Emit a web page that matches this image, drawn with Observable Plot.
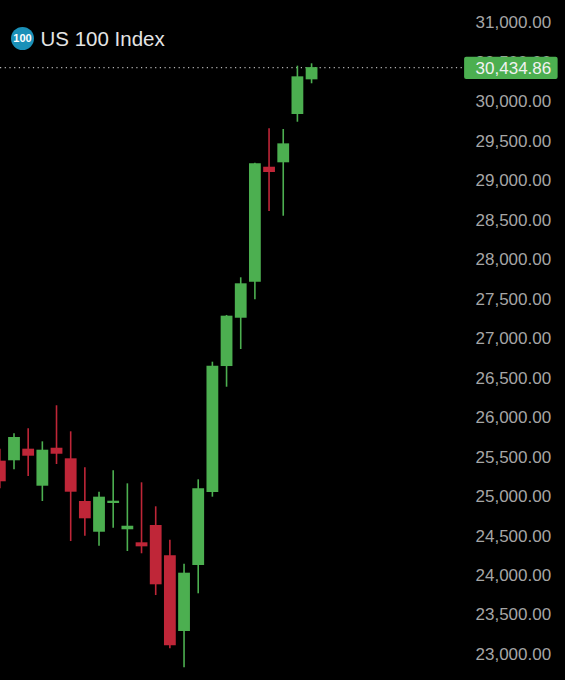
<!DOCTYPE html>
<html>
<head>
<meta charset="utf-8">
<script src="https://cdn.jsdelivr.net/npm/d3@7"></script>
<script src="https://cdn.jsdelivr.net/npm/@observablehq/plot@0.6"></script>
<style>
  html, body { margin: 0; padding: 0; background: #000; width: 565px; height: 680px; overflow: hidden; }
  #chart { position: absolute; left: 0; top: 0; }
  #head { position: absolute; left: 11px; top: 26.5px; display: flex; align-items: center; height: 23px; font-family: "Liberation Sans", sans-serif; }
  #badge { width: 23px; height: 23px; border-radius: 50%; background: #1a90b8; color: #fff; font-size: 11px; font-weight: 700; line-height: 23px; text-align: center; }
  #name { margin-left: 6.5px; color: #e4e4e4; font-size: 20.5px; line-height: 23px; white-space: nowrap; }
  svg text { font-family: "Liberation Sans", sans-serif; }
</style>
</head>
<body>
<div id="chart"></div>
<div id="head"><div id="badge">100</div><div id="name">US 100 Index</div></div>
<script>
const period = [-1,0,1,2,3,4,5,6,7,8,9,10,11,12,13,14,15,16,17,18,19,20,21];
const open  = [25449,25454,25601,25132,25613,25479,24938,24549,24913,24580,24415,24634,24250,23291,24127,25052,26648,27260,27716,29173,29229,29841,30280];
const close = [25188,25749,25512,25588,25537,25056,24719,24993,24942,24625,24364,23883,23110,24030,25099,26652,27286,27696,29216,29106,29469,30318,30434.86];
const high  = [25600,25796,25859,25694,26151,25821,25365,25056,25327,25162,25175,24871,24448,24144,25213,26703,27295,27772,29224,29659,29651,30453,30483];
const low   = [25100,25340,25255,24938,25407,24431,24499,24372,24600,24305,24276,23747,23072,22832,23769,24993,26386,26864,27493,28612,28552,29743,30230];
const priceTicks = [23000,23500,24000,24500,25000,25500,26000,26500,27000,27500,28000,28500,29000,29500,30000,30500,31000];
const lastPrice = 30434.86;
const tagFrom = 31.8, tagTo = 38.4, tagAbove = 130, tagBelow = 150;

const rows = period.map((p, i) => ({p, open: open[i], close: close[i], high: high[i], low: low[i]}));
const GREEN = "#4caf50", RED = "#bf2638";
const tone = d => d.close >= d.open ? GREEN : RED;
const fmt = d3.format(",.2f");

const chart = Plot.plot({
  width: 565, height: 680,
  margin: 0,
  style: {background: "#000", color: "#a6a6a6"},
  x: {domain: [-0.953, 38.92], range: [0, 565], axis: null},
  y: {domain: [23000, 31000], range: [654, 22.5]},
  marks: [
    Plot.ruleY([lastPrice], {x1: -0.953, x2: tagFrom, stroke: "#b4b4b4", strokeWidth: 1.2, strokeDasharray: "1.2 3.5"}),
    Plot.ruleX(rows, {x: "p", y1: "low", y2: "high", stroke: tone, strokeWidth: 1.6}),
    Plot.ruleX(rows, {x: "p", y1: "open", y2: "close", stroke: tone, strokeWidth: 11.8}),
    Plot.axisY({anchor: "left", ticks: priceTicks, tickFormat: fmt, tickSize: 0, tickPadding: 0,
      x: 32.57, label: null, textAnchor: "start", fontSize: 17, fill: "#a6a6a6"}),
    Plot.rect([lastPrice], {x1: tagFrom, x2: tagTo, y1: d => d - tagBelow, y2: d => d + tagAbove, fill: GREEN, r: 2}),
    Plot.text([lastPrice], {x: tagFrom, y: d => d - 10, text: d => fmt(d), fill: "#f2f2f2", fontSize: 17, textAnchor: "start", dx: 11})
  ]
});
document.getElementById("chart").append(chart);
</script>
</body>
</html>
